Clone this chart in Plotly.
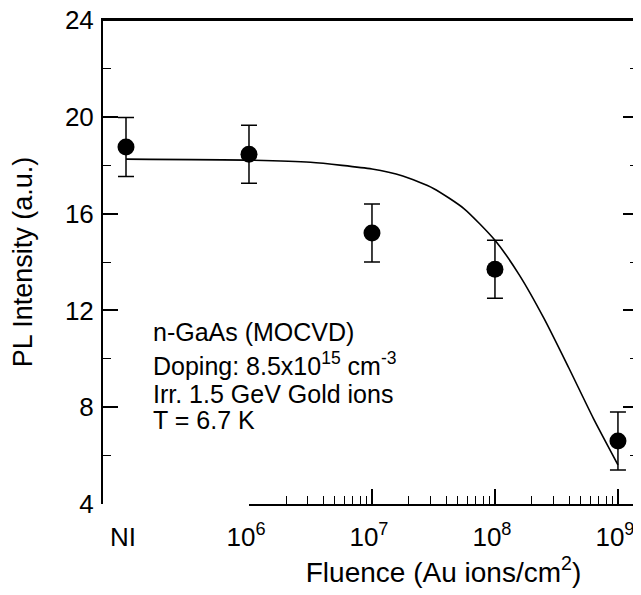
import plotly.graph_objects as go

# ---------------- data ----------------
sample_labels = ["NI", "1e6", "1e7", "1e8", "1e9"]
fluence = [1e5, 1e6, 1e7, 1e8, 1e9]          # NI drawn at the 1e5 slot
pl_intensity = [18.75, 18.45, 15.2, 13.7, 6.6]
pl_error = [1.22, 1.2, 1.2, 1.2, 1.2]

fit_fluence = [1e5, 1e6, 3.16e6, 1e7, 1.78e7, 3.16e7, 5.62e7, 1e8,
               1.58e8, 2.51e8, 3.98e8, 6.31e8, 1e9]
fit_intensity = [18.25, 18.21, 18.12, 17.84, 17.55, 17.04, 16.20, 14.90,
                 13.46, 11.66, 9.63, 7.54, 5.62]

x_tick_vals = [1e5, 1e6, 1e7, 1e8, 1e9]
x_tick_text = ["NI", "10<sup>6</sup>", "10<sup>7</sup>", "10<sup>8</sup>", "10<sup>9</sup>"]
decade_vals = [1e6, 1e7, 1e8, 1e9]
minor_vals = [m * d for d in [1e6, 1e7, 1e8] for m in range(2, 10)]
y_tick_vals = [4, 8, 12, 16, 20, 24]

note_lines = ["n-GaAs (MOCVD)",
              "Doping: 8.5x10<sup>15</sup> cm<sup>-3</sup>",
              "Irr. 1.5 GeV Gold ions",
              "T = 6.7 K"]
note_y = [0.355, 0.289, 0.227, 0.174]   # paper positions of the note lines

# ---------------- figure ----------------
FONT = "Arial, 'Liberation Sans', sans-serif"
xmin, xmax = 4.813, 9.163
d6 = (6 - xmin) / (xmax - xmin)

fig = go.Figure()

fig.add_trace(go.Scatter(
    x=fit_fluence, y=fit_intensity, mode="lines",
    line=dict(color="black", width=1.6, shape="spline", smoothing=0.6),
    hoverinfo="skip", showlegend=False))

fig.add_trace(go.Scatter(
    x=fluence, y=pl_intensity, mode="markers",
    marker=dict(color="black", size=17),
    error_y=dict(type="data", array=pl_error, visible=True,
                 color="black", thickness=1.5, width=8),
    showlegend=False))

# invisible helpers so the extra axes are drawn
fig.add_trace(go.Scatter(x=[1e6], y=[10], xaxis="x2", yaxis="y", mode="markers",
                         marker=dict(opacity=0), hoverinfo="skip", showlegend=False))
fig.add_trace(go.Scatter(x=[1e6], y=[10], xaxis="x3", yaxis="y", mode="markers",
                         marker=dict(opacity=0), hoverinfo="skip", showlegend=False))

# top frame line (drawn as a paper-referenced shape)
fig.add_shape(type="line", xref="paper", yref="paper", x0=0, x1=1, y0=1, y1=1,
              layer="above", line=dict(color="black", width=2))

for line, yy in zip(note_lines, note_y):
    fig.add_annotation(
        text=line, xref="paper", yref="paper",
        x=0.0897, y=yy, xanchor="left", yanchor="middle", align="left",
        showarrow=False, font=dict(family=FONT, size=25, color="black"))

fig.update_layout(
    width=633, height=587,
    margin=dict(l=95, r=3, t=12, b=91, autoexpand=False),
    paper_bgcolor="white", plot_bgcolor="rgba(0,0,0,0)",
    font=dict(family=FONT, color="black"),
    xaxis=dict(type="log", range=[xmin, xmax], showline=False, showgrid=False,
               zeroline=False, automargin=False, tickmode="array",
               tickvals=x_tick_vals, ticktext=x_tick_text, ticks="outside",
               ticklen=10, tickcolor="rgba(0,0,0,0)", ticklabelshift=-3,
               ticklabeloverflow="allow",
               tickfont=dict(size=26, family=FONT)),
    xaxis2=dict(type="log", range=[6, xmax], domain=[d6, 1], anchor="y",
                showline=True, linecolor="black", linewidth=2, showgrid=False,
                zeroline=False, automargin=False, tickmode="array",
                tickvals=decade_vals, showticklabels=False, ticks="inside",
                ticklen=15, tickwidth=1.5, tickcolor="black",
                minor=dict(tickmode="array", tickvals=minor_vals, ticks="inside",
                           ticklen=8, tickwidth=1.2, tickcolor="black", showgrid=False),
                title=dict(text="Fluence (Au ions/cm<sup>2</sup>)",
                           font=dict(size=28, family=FONT), standoff=57)),
    xaxis3=dict(type="log", range=[xmin, xmax], overlaying="x", side="top",
                anchor="y", showline=True, linecolor="black", linewidth=2,
                showgrid=False, zeroline=False, automargin=False, ticks="",
                showticklabels=False),
    yaxis=dict(range=[4, 24], showline=True, linecolor="black", linewidth=2,
               mirror="ticks", showgrid=False, zeroline=False, automargin=False,
               tickmode="array", tickvals=y_tick_vals, ticks="inside",
               ticklen=15, tickwidth=1.5, tickcolor="black", ticklabelstandoff=2,
               ticklabeloverflow="allow",
               minor=dict(dtick=2, ticks="inside", ticklen=8, tickwidth=1.2,
                          tickcolor="black", showgrid=False),
               tickfont=dict(size=26, family=FONT),
               title=dict(text="PL Intensity (a.u.)", font=dict(size=27, family=FONT),
                          standoff=26)),
)

fig.write_html("out.html")
